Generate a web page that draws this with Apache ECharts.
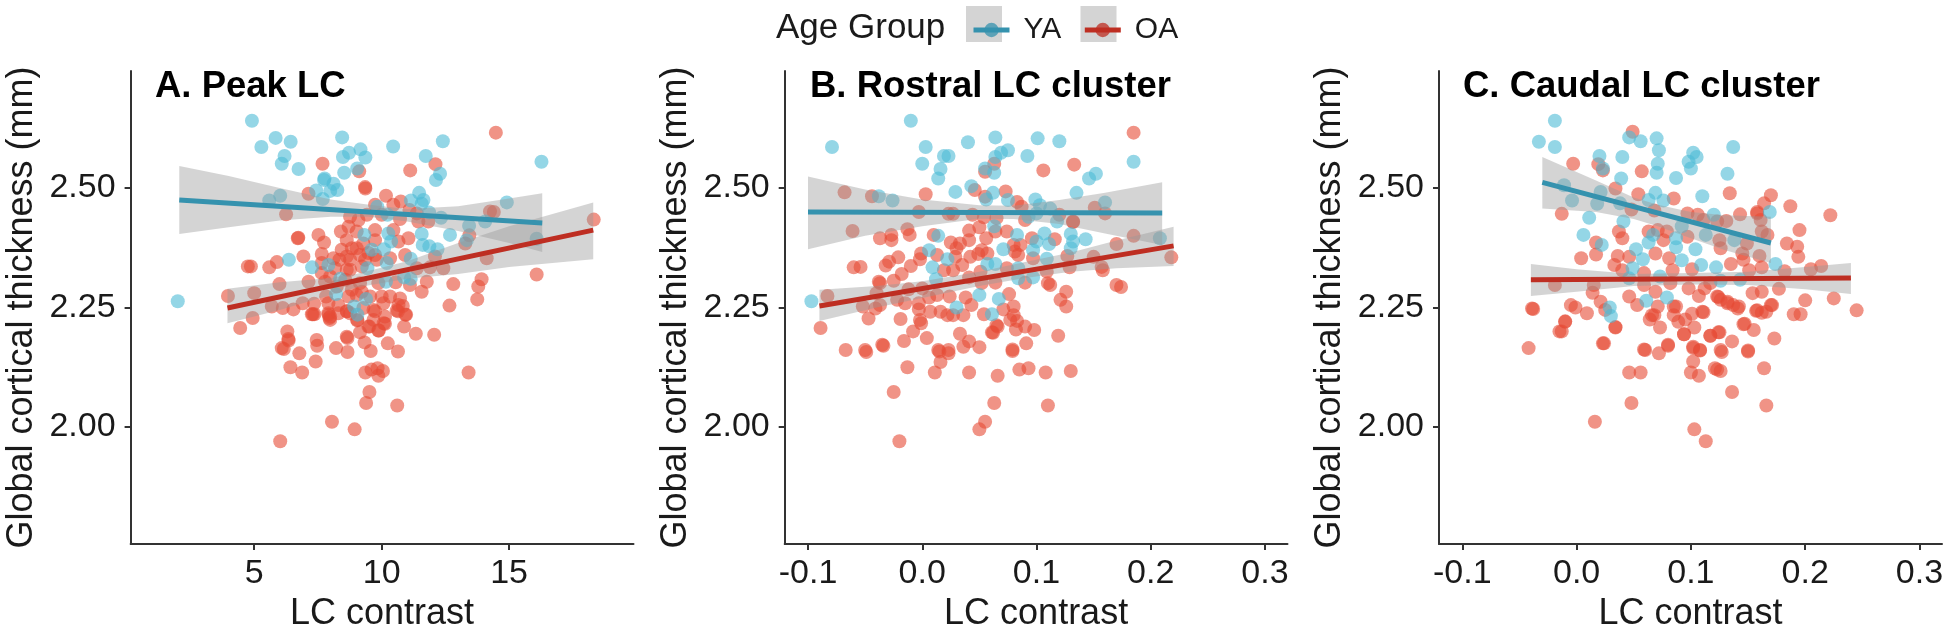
<!DOCTYPE html>
<html><head><meta charset="utf-8">
<script src="https://cdn.jsdelivr.net/npm/echarts@6/dist/echarts.min.js"></script>
<style>html,body{margin:0;padding:0;background:#fff}#c{width:1950px;height:632px}</style></head>
<body><div id="c"></div>
<script>
const groups = ['YA','OA'];
const panelTitles = ['A. Peak LC','B. Rostral LC cluster','C. Caudal LC cluster'];
const yTicks = [2.00,2.25,2.50];
const xTicksA = [5,10,15];
const xTicksBC = [-0.1,0,0.1,0.2,0.3];

const ptsA_YA = [[5.59,2.474],[6.02,2.484],[7.43,2.495],[7.69,2.477],[7.98,2.494],[8.26,2.496],[8.11,2.509],[7.74,2.517],[11.15,2.474],[11.47,2.49],[11.64,2.475],[11.57,2.467],[11.86,2.449],[12.33,2.438],[9.83,2.461],[10.23,2.444],[13.43,2.421],[13.34,2.391],[14.06,2.43],[12.68,2.402],[9.32,2.402],[10.26,2.405],[10.37,2.388],[9.61,2.371],[10.09,2.372],[11.57,2.404],[11.61,2.381],[11.87,2.378],[12.19,2.372],[11.14,2.352],[10.2,2.343],[9.44,2.332],[7.91,2.339],[7.27,2.334],[6.36,2.35],[8.37,2.31],[10.17,2.304],[10.88,2.313],[11.14,2.31],[8.21,2.278],[9.39,2.268],[8.92,2.252],[9.05,2.235],[12.13,2.517],[4.91,2.641],[5.28,2.586],[5.84,2.605],[6.43,2.597],[6.19,2.567],[6.08,2.551],[6.74,2.54],[8.45,2.606],[8.72,2.574],[8.48,2.565],[9.17,2.581],[9.36,2.564],[9.04,2.541],[8.53,2.532],[10.45,2.587],[12.4,2.598],[11.73,2.567],[12.29,2.53],[16.27,2.555],[7.76,2.52],[2.0,2.263],[14.91,2.47],[16.08,2.394]];
const ptsA_OA = [[9.35,2.502],[10.17,2.484],[7.13,2.488],[6.25,2.445],[6.71,2.395],[6.73,2.396],[7.52,2.402],[8.4,2.409],[7.74,2.386],[7.65,2.362],[6.93,2.357],[5.89,2.345],[5.59,2.334],[4.87,2.336],[5.99,2.299],[7.13,2.304],[5.0,2.28],[5.69,2.252],[6.12,2.249],[6.54,2.246],[6.9,2.259],[7.35,2.258],[4.94,2.228],[6.3,2.2],[6.34,2.184],[7.26,2.236],[7.95,2.228],[7.98,2.224],[8.63,2.189],[9.74,2.465],[10.46,2.465],[10.75,2.472],[11.09,2.454],[11.38,2.447],[11.83,2.43],[11.44,2.43],[10.72,2.435],[10.0,2.444],[9.42,2.444],[8.76,2.44],[9.09,2.433],[8.7,2.419],[9.74,2.412],[10.46,2.412],[9.02,2.409],[8.63,2.391],[9.28,2.384],[9.74,2.391],[8.43,2.371],[8.83,2.374],[8.11,2.353],[8.63,2.357],[9.15,2.36],[9.74,2.36],[8.76,2.329],[9.22,2.336],[8.17,2.332],[7.65,2.322],[7.78,2.304],[8.63,2.329],[9.81,2.35],[10.33,2.353],[10.66,2.388],[11.05,2.395],[10.92,2.36],[11.38,2.332],[11.9,2.334],[12.42,2.332],[11.77,2.304],[11.11,2.297],[10.55,2.303],[9.87,2.301],[11.57,2.283],[12.81,2.299],[13.92,2.309],[13.79,2.294],[13.75,2.267],[12.66,2.254],[7.82,2.273],[8.3,2.255],[8.7,2.273],[9.22,2.283],[9.55,2.273],[10.0,2.273],[10.33,2.273],[10.72,2.269],[10.83,2.253],[10.59,2.244],[10.96,2.235],[10.13,2.231],[9.74,2.242],[9.28,2.249],[8.63,2.242],[7.91,2.238],[7.3,2.236],[9.05,2.224],[10.13,2.216],[9.48,2.21],[9.15,2.198],[9.87,2.202],[10.88,2.21],[11.34,2.195],[12.06,2.193],[14.12,2.353],[14.25,2.451],[12.09,2.357],[7.45,2.182],[14.48,2.616],[7.68,2.551],[12.11,2.55],[11.12,2.537],[9.12,2.535],[9.36,2.499],[14.4,2.45],[18.32,2.434],[16.08,2.319],[13.28,2.384],[13.44,2.401],[4.75,2.336],[3.97,2.274],[4.45,2.207],[6.35,2.181],[6.08,2.165],[6.16,2.163],[6.77,2.154],[7.47,2.17],[7.41,2.137],[6.42,2.125],[6.88,2.114],[8.21,2.165],[8.66,2.186],[8.66,2.157],[9.33,2.177],[9.57,2.159],[10.24,2.175],[10.64,2.158],[10.08,2.217],[9.89,2.202],[9.52,2.21],[9.04,2.223],[9.68,2.224],[9.36,2.114],[9.6,2.12],[9.84,2.123],[9.87,2.107],[10.05,2.117],[9.52,2.073],[9.39,2.05],[10.61,2.045],[13.41,2.114],[8.05,2.011],[8.94,1.995],[6.02,1.97],[7.36,2.236],[7.92,2.235],[8.64,2.242],[9.68,2.245],[10.64,2.242],[10.93,2.235],[8.76,2.35],[9.02,2.374],[9.35,2.35],[8.34,2.35],[7.98,2.315],[8.24,2.294],[8.83,2.287],[9.15,2.301],[9.48,2.364],[7.65,2.343],[7.91,2.259],[9.02,2.276],[8.57,2.308],[10.07,2.259],[10.66,2.255],[7.98,2.231],[8.3,2.238],[8.76,2.238]];

const ptsB_YA = [[-0.038,2.483],[-0.026,2.474],[0.029,2.492],[0.056,2.476],[0.062,2.49],[0.075,2.475],[0.135,2.49],[0.099,2.476],[0.103,2.464],[0.112,2.457],[0.1,2.447],[0.093,2.44],[0.118,2.43],[0.063,2.42],[0.083,2.402],[0.107,2.405],[0.1,2.388],[0.111,2.383],[0.097,2.37],[0.13,2.404],[0.132,2.388],[0.13,2.374],[0.143,2.393],[0.109,2.352],[0.071,2.372],[0.014,2.4],[0.006,2.37],[0.022,2.351],[0.009,2.334],[0.012,2.309],[0.057,2.341],[0.064,2.341],[0.084,2.332],[0.084,2.311],[0.097,2.313],[0.05,2.276],[0.067,2.268],[0.03,2.25],[0.061,2.236],[-0.01,2.641],[-0.079,2.586],[0.064,2.606],[0.04,2.596],[0.101,2.604],[0.12,2.598],[0.003,2.586],[0.019,2.567],[0.023,2.567],[0,2.551],[0.016,2.54],[0.014,2.52],[0.075,2.579],[0.069,2.574],[0.064,2.565],[0.092,2.567],[0.055,2.541],[0.063,2.532],[0.152,2.53],[0.146,2.52],[0.185,2.555],[0.043,2.504],[0.16,2.47],[-0.097,2.263],[0.208,2.395]];
const ptsB_OA = [[-0.044,2.483],[0.003,2.487],[0.046,2.496],[0.055,2.482],[0.083,2.471],[0.087,2.461],[-0.003,2.45],[0.023,2.446],[0.027,2.446],[0.044,2.444],[0.054,2.439],[0.065,2.437],[0.09,2.433],[0.12,2.444],[0.132,2.43],[-0.061,2.41],[-0.037,2.395],[-0.027,2.402],[-0.027,2.391],[-0.013,2.414],[-0.011,2.402],[0.01,2.402],[0.041,2.411],[0.05,2.418],[0.064,2.409],[0.074,2.409],[0.056,2.395],[0.025,2.386],[0.041,2.391],[0.033,2.384],[0.03,2.374],[0.096,2.395],[0.116,2.393],[0.08,2.381],[0.086,2.381],[0.052,2.37],[0.049,2.362],[0.057,2.363],[0.042,2.356],[-0.021,2.355],[-0.001,2.363],[-0.002,2.351],[0.013,2.36],[0.029,2.356],[0.035,2.339],[-0.029,2.346],[-0.032,2.338],[-0.01,2.337],[-0.06,2.334],[-0.054,2.335],[-0.018,2.32],[-0.025,2.306],[-0.038,2.304],[-0.037,2.301],[0.019,2.328],[0.027,2.328],[0.051,2.325],[0.074,2.332],[0.081,2.367],[0.084,2.36],[0.097,2.353],[0.109,2.325],[0.11,2.301],[0.112,2.297],[0.127,2.358],[0.129,2.334],[0.09,2.302],[0.064,2.302],[0.052,2.301],[0.041,2.313],[-0.012,2.288],[0,2.29],[-0.04,2.28],[0.126,2.283],[0.121,2.266],[0.126,2.252],[0.076,2.278],[0.024,2.273],[0.038,2.271],[0.006,2.271],[0.013,2.276],[-0.015,2.259],[-0.022,2.266],[-0.003,2.259],[-0.003,2.246],[-0.037,2.255],[-0.041,2.248],[-0.052,2.252],[0.007,2.241],[0.016,2.241],[0.022,2.234],[0.027,2.234],[0.036,2.234],[0.043,2.255],[0.054,2.236],[0.071,2.246],[0.08,2.252],[0.08,2.234],[0.077,2.224],[0.083,2.222],[-0.001,2.217],[-0.002,2.224],[-0.019,2.226],[-0.047,2.227],[0.065,2.213],[0.062,2.197],[0.082,2.204],[0.09,2.21],[0.098,2.203],[0.119,2.191],[0.033,2.195],[0.041,2.179],[0.004,2.186],[-0.008,2.2],[-0.016,2.18],[-0.035,2.172],[-0.05,2.161],[0.036,2.168],[0.05,2.167],[0.091,2.175],[0.079,2.162],[0.014,2.161],[0.023,2.161],[0.185,2.616],[0.133,2.549],[0.106,2.537],[0.063,2.551],[0.055,2.534],[-0.068,2.491],[0.073,2.493],[-0.083,2.274],[0.151,2.459],[0.16,2.447],[0.132,2.429],[0.185,2.4],[0.17,2.383],[0.218,2.355],[0.15,2.356],[0.157,2.335],[0.158,2.328],[0.17,2.297],[0.174,2.293],[-0.089,2.207],[-0.034,2.17],[-0.067,2.161],[-0.049,2.157],[0.015,2.158],[0.023,2.154],[0.016,2.136],[0.061,2.198],[0.066,2.21],[0.079,2.159],[-0.013,2.125],[0.011,2.114],[0.041,2.114],[0.066,2.107],[0.085,2.12],[0.093,2.123],[0.108,2.114],[0.13,2.117],[-0.025,2.073],[0.063,2.05],[0.11,2.045],[0.055,2.011],[0.05,1.995],[-0.02,1.97]];

const ptsC_YA = [[-0.004,2.474],[0.018,2.467],[0.021,2.492],[0.063,2.475],[0.069,2.49],[0.076,2.474],[0.11,2.483],[0.038,2.468],[0.011,2.438],[0.006,2.402],[0.041,2.43],[0.022,2.381],[0.052,2.372],[0.058,2.351],[0.067,2.402],[0.063,2.386],[0.087,2.395],[0.087,2.376],[0.092,2.42],[0.113,2.402],[0.12,2.444],[0.104,2.372],[0.092,2.349],[0.109,2.339],[0.122,2.334],[0.169,2.45],[0.138,2.391],[0.174,2.341],[0.126,2.306],[0.143,2.308],[0.073,2.315],[0.046,2.311],[0.049,2.332],[0.079,2.271],[0.061,2.264],[0.029,2.25],[0.03,2.232],[-0.019,2.641],[-0.033,2.597],[-0.019,2.586],[0.02,2.567],[0.04,2.565],[0.046,2.606],[0.056,2.598],[0.07,2.604],[0.072,2.579],[0.071,2.551],[0.07,2.532],[0.102,2.574],[0.105,2.565],[0.098,2.555],[0.1,2.541],[0.137,2.586],[0.132,2.53],[0.087,2.521],[0.039,2.52],[0.023,2.541],[-0.011,2.506]];
const ptsC_OA = [[0.054,2.487],[0.085,2.478],[0.134,2.489],[0.17,2.485],[0.164,2.468],[0.187,2.462],[-0.013,2.446],[0.048,2.455],[0.068,2.453],[0.097,2.447],[0.106,2.444],[0.111,2.433],[0.123,2.43],[0.131,2.431],[0.143,2.445],[0.158,2.45],[0.158,2.447],[0.161,2.433],[0.162,2.409],[0.167,2.402],[0.037,2.409],[0.04,2.395],[0.017,2.386],[0.017,2.361],[0.004,2.353],[0.063,2.409],[0.071,2.412],[0.079,2.409],[0.076,2.391],[0.097,2.398],[0.125,2.391],[0.126,2.374],[0.16,2.358],[0.145,2.363],[0.149,2.384],[0.184,2.384],[0.193,2.377],[0.195,2.412],[0.194,2.356],[0.036,2.358],[0.046,2.356],[0.033,2.339],[0.04,2.328],[0.059,2.322],[0.069,2.363],[0.081,2.353],[0.084,2.328],[0.101,2.33],[0.135,2.341],[0.146,2.35],[0.162,2.334],[0.182,2.326],[0.151,2.328],[0.015,2.297],[0.014,2.281],[0.059,2.297],[0.082,2.301],[0.098,2.29],[0.112,2.29],[0.123,2.273],[0.132,2.259],[0.142,2.252],[0.154,2.28],[0.162,2.283],[0.177,2.289],[0.046,2.273],[0.053,2.255],[0.069,2.283],[0.107,2.274],[0.087,2.252],[0.085,2.234],[0.068,2.234],[0.064,2.225],[-0.005,2.255],[-0.001,2.25],[0.009,2.238],[0.021,2.262],[0.025,2.245],[0.034,2.208],[-0.01,2.22],[-0.013,2.2],[0.073,2.208],[0.089,2.22],[0.095,2.225],[0.103,2.208],[0.111,2.24],[0.094,2.194],[0.117,2.191],[0.125,2.198],[0.146,2.215],[0.136,2.179],[0.157,2.243],[0.162,2.239],[0.17,2.255],[0.173,2.185],[0.155,2.203],[0.19,2.236],[0.196,2.236],[0.023,2.175],[0.059,2.162],[0.08,2.172],[0.102,2.168],[0.108,2.161],[0.126,2.161],[0.15,2.16],[0.071,2.252],[0.117,2.301],[0.126,2.266],[0.049,2.618],[-0.003,2.551],[0.019,2.55],[0.023,2.537],[0.057,2.535],[0.034,2.499],[0.222,2.443],[0.214,2.337],[0.205,2.33],[-0.019,2.297],[-0.039,2.248],[-0.038,2.247],[0.225,2.269],[0.245,2.244],[0.2,2.265],[-0.042,2.165],[-0.015,2.2],[-0.01,2.221],[0.024,2.175],[0.034,2.209],[0.06,2.161],[0.072,2.154],[0.08,2.17],[0.094,2.194],[0.102,2.165],[0.108,2.16],[0.102,2.137],[0.1,2.114],[0.107,2.107],[0.046,2.114],[0.056,2.114],[0.121,2.123],[0.123,2.12],[0.126,2.117],[0.164,2.123],[0.136,2.073],[0.048,2.05],[0.166,2.045],[0.016,2.011],[0.103,1.995],[0.113,1.97],[0.117,2.191],[0.124,2.198],[0.127,2.157],[0.15,2.158],[0.147,2.216],[0.124,2.272],[0.132,2.262],[0.137,2.255],[0.141,2.248],[0.158,2.244],[0.166,2.241],[0.171,2.255],[0.085,2.252],[0.101,2.237],[0.11,2.241],[0.066,2.234]];

const fitA_YA = [[2.06,2.475],[16.3,2.427]];
const fitA_OA = [[3.95,2.249],[18.3,2.412]];
const fitB_YA = [[-0.1,2.45],[0.21,2.448]];
const fitB_OA = [[-0.09,2.253],[0.22,2.379]];
const fitC_YA = [[-0.03,2.512],[0.17,2.385]];
const fitC_OA = [[-0.04,2.308],[0.24,2.312]];

// [x, lower, upper]
const ciA_YA = [[2.06,2.404,2.546],[4,2.418,2.525],[6,2.432,2.50],[8,2.44,2.476],[9.5,2.44,2.465],[11,2.43,2.456],[13,2.41,2.462],[15,2.385,2.478],[16.3,2.366,2.489]];
const ciA_OA = [[3.95,2.217,2.289],[6,2.245,2.303],[8,2.276,2.312],[9,2.292,2.32],[11,2.31,2.347],[13,2.32,2.385],[15,2.335,2.42],[18.3,2.351,2.47]];
const ciB_YA = [[-0.1,2.372,2.524],[-0.05,2.40,2.497],[0,2.42,2.476],[0.05,2.436,2.464],[0.08,2.435,2.463],[0.12,2.425,2.475],[0.16,2.405,2.49],[0.21,2.381,2.512]];
const ciB_OA = [[-0.09,2.222,2.287],[-0.04,2.25,2.295],[0,2.27,2.305],[0.05,2.295,2.325],[0.09,2.312,2.345],[0.13,2.325,2.365],[0.17,2.332,2.39],[0.22,2.337,2.419]];
const ciC_YA = [[-0.03,2.457,2.565],[0.017,2.45,2.516],[0.05,2.435,2.48],[0.071,2.42,2.465],[0.1,2.395,2.45],[0.13,2.37,2.443],[0.17,2.343,2.44]];
const ciC_OA = [[-0.04,2.274,2.341],[0,2.283,2.33],[0.05,2.295,2.32],[0.1,2.298,2.322],[0.15,2.297,2.325],[0.2,2.288,2.335],[0.24,2.278,2.343]];

const FONT = '"Liberation Sans", Arial, sans-serif';
const INK = '#1a1a1a', AXIS = '#333333';
const PT = {YA:'#4DBBD5', OA:'#E64B35'};
const LN = {YA:'#3592AE', OA:'#BE2E22'};
const BAND = 'rgba(153,153,153,0.42)';

const panels = [
  {title:panelTitles[0], tx:150, left:130.6, right:633.5, xmin:0.15, xmax:19.88, ticks:xTicksA, fmt:v=>String(v), ya:ptsA_YA, oa:ptsA_OA, fy:fitA_YA, fo:fitA_OA, cy:ciA_YA, co:ciA_OA, yGap:91},
  {title:panelTitles[1], tx:805, left:784.7, right:1287.5, xmin:-0.1204, xmax:0.3197, ticks:xTicksBC, fmt:v=>v.toFixed(1), ya:ptsB_YA, oa:ptsB_OA, fy:fitB_YA, fo:fitB_OA, cy:ciB_YA, co:ciB_OA, yGap:91},
  {title:panelTitles[2], tx:1458, left:1439, right:1942, xmin:-0.1204, xmax:0.3197, ticks:xTicksBC, fmt:v=>v.toFixed(1), ya:ptsC_YA, oa:ptsC_OA, fy:fitC_YA, fo:fitC_OA, cy:ciC_YA, co:ciC_OA, yGap:91}
];

const series = [], grids = [], xAxes = [], yAxes = [];
const titles = [{text:'Age Group', left:771, top:6, textStyle:{fontFamily:FONT, fontSize:35, fontWeight:'normal', color:INK}}];

function band(i, data){
  return {type:'custom', xAxisIndex:i, yAxisIndex:i, z:3, silent:true, data:data,
    encode:{x:0,y:[1,2]},
    renderItem:function(params, api){
      if(params.dataIndex!==0) return null;
      const up=[], lo=[];
      data.forEach(d=>{ up.push(api.coord([d[0],d[2]])); lo.unshift(api.coord([d[0],d[1]])); });
      return {type:'polygon', shape:{points:up.concat(lo)}, style:{fill:BAND}};
    }};
}

panels.forEach((p,i)=>{
  grids.push({left:p.left, top:71, width:p.right-p.left, height:473, outerBoundsMode:'none'});
  titles.push({text:p.title, left:p.tx, top:63, textStyle:{fontFamily:FONT, fontSize:36.5, fontWeight:'bold', color:'#000'}});
  xAxes.push({type:'value', gridIndex:i, min:p.xmin, max:p.xmax, splitLine:{show:false},
    name:'LC contrast', nameLocation:'middle', nameGap:50,
    nameTextStyle:{fontFamily:FONT, fontSize:36, color:INK},
    axisLine:{show:true, onZero:false, lineStyle:{color:AXIS,width:2}},
    axisTick:{show:true, length:6, customValues:p.ticks, lineStyle:{color:AXIS,width:2}},
    axisLabel:{show:true, customValues:p.ticks, formatter:p.fmt, margin:13, fontFamily:FONT, fontSize:34, color:INK}});
  yAxes.push({type:'value', gridIndex:i, min:1.755, max:2.745, splitLine:{show:false},
    name:'Global cortical thickness (mm)', nameLocation:'middle', nameGap:91,
    nameTextStyle:{fontFamily:FONT, fontSize:36, color:INK},
    axisLine:{show:true, onZero:false, lineStyle:{color:AXIS,width:2}},
    axisTick:{show:true, length:6, customValues:yTicks, lineStyle:{color:AXIS,width:2}},
    axisLabel:{show:true, customValues:yTicks, formatter:v=>v.toFixed(2), margin:15, fontFamily:FONT, fontSize:34, color:INK}});
  series.push({type:'line', name:groups[0], xAxisIndex:i, yAxisIndex:i, z:4, data:p.fy, symbol:'circle', symbolSize:13, showSymbol:false,
    itemStyle:{color:LN.YA, opacity:0.75}, lineStyle:{color:LN.YA,width:5,opacity:1}, silent:true});
  series.push({type:'line', name:groups[1], xAxisIndex:i, yAxisIndex:i, z:4, data:p.fo, symbol:'circle', symbolSize:13, showSymbol:false,
    itemStyle:{color:LN.OA, opacity:0.75}, lineStyle:{color:LN.OA,width:5,opacity:1}, silent:true});
  series.push({type:'scatter', name:groups[1], xAxisIndex:i, yAxisIndex:i, z:2, data:p.oa, symbolSize:14, itemStyle:{color:PT.OA,opacity:0.6}, silent:true});
  series.push({type:'scatter', name:groups[0], xAxisIndex:i, yAxisIndex:i, z:2, data:p.ya, symbolSize:14, itemStyle:{color:PT.YA,opacity:0.6}, silent:true});
  series.push(band(i,p.cy));
  series.push(band(i,p.co));
});

const chart = echarts.init(document.getElementById('c'), null, {renderer:'canvas'});
chart.setOption({
  animation:false, backgroundColor:'#fff', title:titles, grid:grids, xAxis:xAxes, yAxis:yAxes, series:series,
  legend:{data:groups, left:966, top:10, itemWidth:36, itemHeight:18, itemGap:21, selectedMode:false, z:10,
    lineStyle:{width:5},
    textStyle:{fontFamily:FONT, fontSize:30, color:INK, padding:[0,0,0,9]}},
  graphic:[
    {type:'rect', z:1, shape:{x:966,y:6,width:36,height:36}, style:{fill:'#d4d4d4'}},
    {type:'rect', z:1, shape:{x:1080.5,y:6,width:36,height:36}, style:{fill:'#d4d4d4'}}
  ]
});
</script></body></html>
